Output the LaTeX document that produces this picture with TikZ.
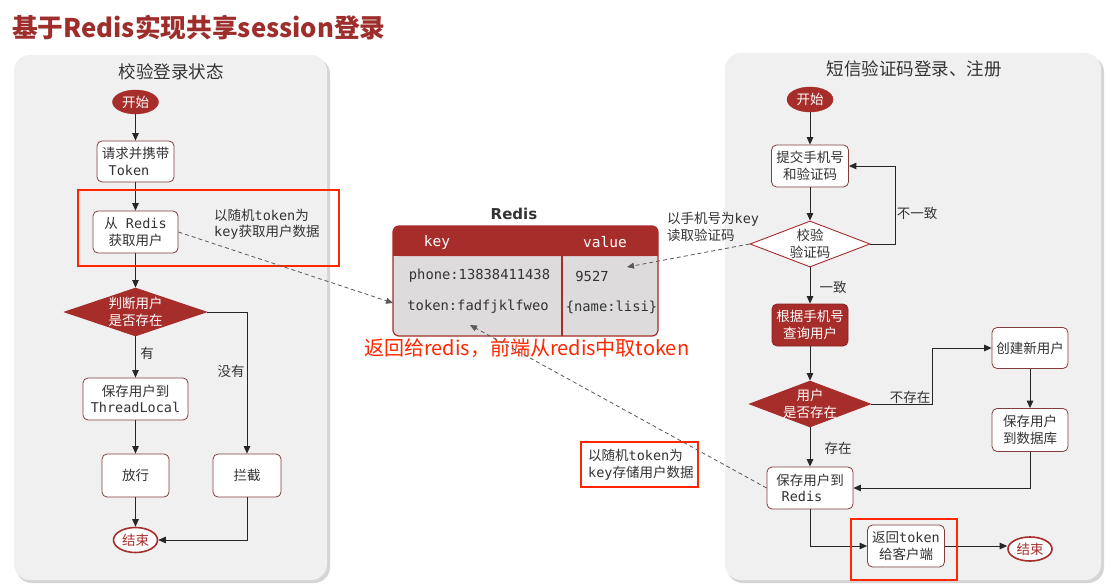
\documentclass[tikz,border=0pt]{standalone}
\usepackage{fontspec}
\setmainfont{Noto Sans CJK SC}
\newfontfamily\monof{DejaVu Sans Mono}
\newfontfamily\sansf{DejaVu Sans}
\usetikzlibrary{shapes.geometric,arrows.meta,calc}
\definecolor{dred}{RGB}{166,45,42}
\definecolor{ttl}{RGB}{158,46,44}
\definecolor{txt}{RGB}{51,51,51}
\definecolor{bord}{RGB}{130,62,62}
\definecolor{panelc}{RGB}{241,240,240}
\definecolor{shadc}{RGB}{214,212,212}
\definecolor{tbody}{RGB}{221,219,219}
\definecolor{hl}{RGB}{255,38,0}
\newcommand\mo[1]{{\monof #1}}
\newcommand\fsn{\fontsize{13.5}{16.5}\selectfont}
\begin{document}
\begin{tikzpicture}[x=1pt,y=-1pt,
  box/.style={rectangle, rounded corners=5pt, draw=bord, line width=0.8pt, fill=white, text=txt, align=center, font=\fsn, inner sep=0pt},
  redbox/.style={box, fill=dred, draw=dred!80!black, text=white},
  startn/.style={ellipse, fill=dred, draw=dred, text=white, font=\fsn, inner sep=0pt, minimum width=46pt, minimum height=24pt},
  endn/.style={ellipse, fill=white, draw=dred, line width=1.6pt, text=dred, font=\fsn, inner sep=0pt, minimum width=44pt, minimum height=25pt},
  dia/.style={diamond, inner sep=0pt, line width=0.9pt},
  diatext/.style={align=center, font=\fsn, inner sep=0pt},
  arr/.style={draw=black!85, line width=0.9pt, -{Triangle[length=7.5pt,width=6.5pt]}},
  darr/.style={draw=black!65, line width=0.8pt, dash pattern=on 4pt off 3pt, -{Triangle[length=7pt,width=6pt]}},
  lbl/.style={text=txt, font=\fsn, inner sep=0pt},
  annot/.style={text=txt, font=\fsn, inner sep=0pt, align=left, anchor=west},
  hlrect/.style={draw=hl, line width=2.8pt},
  celltext/.style={text=txt, font=\monof\fontsize{13.8}{16}\selectfont, inner sep=0pt},
  headtext/.style={text=white, font=\monof\fontsize{14.5}{17}\selectfont, inner sep=0pt},
]
\useasboundingbox (0,0) rectangle (1110,588);
\fill[white] (0,0) rectangle (1110,588);

% title
\node[anchor=west, inner sep=0pt, text=ttl, font=\fontsize{25.7}{30}\selectfont\bfseries] (title) at (12,28) {基于Redis实现共享session登录};

% panels
\fill[shadc, rounded corners=16pt] (16,58) rectangle (330,583);
\fill[panelc, rounded corners=16pt] (14,55) rectangle (327,580);
\fill[shadc, rounded corners=16pt] (727,56) rectangle (1104,583);
\fill[panelc, rounded corners=16pt] (725,53) rectangle (1101,580);

\node[text=txt, font=\fontsize{17.5}{20}\selectfont, inner sep=0pt] (ptl) at (171,72) {校验登录状态};
\node[text=txt, font=\fontsize{17.5}{20}\selectfont, inner sep=0pt] (ptr) at (914,69) {短信验证码登录、注册};

% ---------- left flow ----------
\node[startn] (s1) at (135.5,102) {开始};
\node[box, minimum width=77pt, minimum height=41pt] (req) at (135.5,161.5) {请求并携带\\\mo{Token}\hspace*{13pt}};
\node[box, minimum width=85pt, minimum height=42pt] (get) at (135.5,232) {从\mo{ Redis}\\获取用户};
\node[dia, fill=dred, draw=dred, minimum width=142pt, minimum height=48pt] (judge) at (135.5,312) {};
\node[diatext, text=white] (judgeT) at (judge.center) {判断用户\\是否存在};
\node[box, minimum width=105pt, minimum height=42pt] (tl) at (135.5,399) {保存用户到\\\mo{ThreadLocal}};
\node[box, minimum width=67pt, minimum height=43pt] (pass) at (135.5,475.5) {放行};
\node[box, minimum width=68pt, minimum height=43pt] (block) at (247,475.5) {拦截};
\node[endn] (e1) at (135.5,540) {结束};

\draw[arr] (s1) -- (req);
\draw[arr] (req) -- (get);
\draw[arr] (get) -- (judge.north);
\draw[arr] (judge.south) -- (tl.north);
\draw[arr] (tl) -- (pass);
\draw[arr] (pass) -- (e1);
\draw[arr] (judge.east) -| (block.north);
\draw[arr] (block.south) |- (e1.east);
\node[lbl] (lyes) at (147,353) {有};
\node[lbl] (lno) at (231,371) {没有};

\node[annot] (a1) at (214,224) {以随机\mo{token}为\\\mo{key}获取用户数据};
\draw[hlrect] (78,190) rectangle (339,266);

% ---------- Redis table ----------
\node[text=txt, font=\sansf\bfseries\fontsize{15}{18}\selectfont, inner sep=0pt] (rt) at (514,214) {Redis};
\fill[tbody, rounded corners=6pt] (393,226) rectangle (658,336);
\fill[dred, rounded corners=6pt] (393,226) rectangle (658,256);
\fill[dred] (393,246) rectangle (658,256);
\draw[dred, line width=1.2pt, rounded corners=6pt] (393,226) rectangle (658,336);
\draw[dred, line width=1.2pt] (562,256) -- (562,336);
\node[headtext] (hk) at (437,242) {key};
\node[headtext] (hv) at (605,242) {value};
\node[celltext] (c11) at (479.5,276) {phone:13838411438};
\node[celltext] (c12) at (592,276) {9527};
\node[celltext] (c21) at (478,307) {token:fadfjklfweo};
\node[celltext] (c22) at (611.5,307) {\{name:lisi\}};
\coordinate (t1) at (393,303);
\coordinate (t2) at (627,267);
\coordinate (t3) at (470,325);

\node[anchor=west, inner sep=0pt, text=hl, font=\fontsize{20}{24}\selectfont] (redt) at (364,348) {返回给redis，前端从redis中取token};

% ---------- right flow ----------
\node[startn, minimum height=25pt] (s2) at (810,99.5) {开始};
\node[box, minimum width=77pt, minimum height=42pt] (sub) at (810,166) {提交手机号\\和验证码};
\node[dia, fill=white, draw=dred, minimum width=120pt, minimum height=46pt] (ver) at (810,244) {};
\node[diatext, text=txt] (verT) at (ver.center) {校验\\验证码};
\node[redbox, minimum width=76pt, minimum height=42pt] (q) at (810,325) {根据手机号\\查询用户};
\node[dia, fill=dred, draw=dred, minimum width=121pt, minimum height=46pt] (ue) at (810,404) {};
\node[diatext, text=white] (ueT) at (ue.center) {用户\\是否存在};
\node[box, minimum width=76pt, minimum height=41pt] (cr) at (1030,348) {创建新用户};
\node[box, minimum width=76pt, minimum height=43pt] (db) at (1030,430) {保存用户\\到数据库};
\node[box, minimum width=86pt, minimum height=42pt] (sr) at (810,488) {保存用户到\\\mo{Redis}\hspace*{16pt}};
\node[box, minimum width=77pt, minimum height=42pt] (ret) at (906,546) {返回\mo{token}\\给客户端};
\node[endn, minimum height=24pt] (e2) at (1030,549) {结束};

\draw[arr] (s2) -- (sub);
\draw[arr] (sub) -- (ver.north);
\draw[arr] (ver.east) -- ++(25,0) |- (sub.east);
\draw[arr] (ver.south) -- (q.north);
\draw[arr] (q) -- (ue.north);
\draw[arr] (ue.east) -- ++(61,0) |- (cr.west);
\draw[arr] (cr) -- (db);
\draw[arr] (db.south) |- (sr.east);
\draw[arr] (ue.south) -- (sr.north);
\draw[arr] (sr.south) |- (ret.west);
\draw[arr] (ret.east) -- (e2.west |- ret.east);
\node[lbl] (lne) at (917,213) {不一致};
\node[lbl] (leq) at (833,287) {一致};
\node[lbl] (lnx) at (910,397) {不存在};
\node[lbl] (lex) at (838,448) {存在};

\node[annot] (a2) at (667,227) {以手机号为\mo{key}\\读取验证码};
\node[annot] (a3) at (588,464.5) {以随机\mo{token}为\\\mo{key}存储用户数据};
\draw[hlrect] (581,442) rectangle (698,487);
\draw[hlrect] (851,519) rectangle (957,580);

% dashed links to Redis
\draw[darr] (get.east) -- (t1);
\draw[darr] (ver.west) -- (t2);
\draw[darr] (sr.west) -- (t3);
\end{tikzpicture}
\end{document}
